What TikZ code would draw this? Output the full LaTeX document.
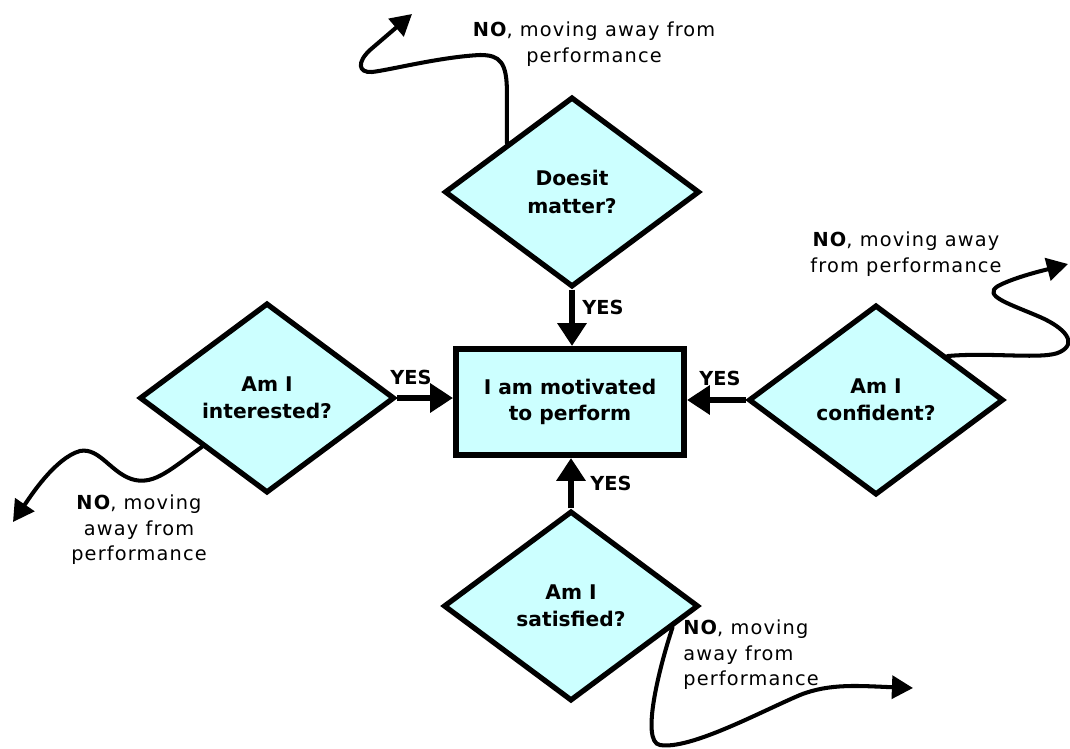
\documentclass[tikz,border=0pt]{standalone}
\usepackage{fontspec}
\setmainfont{DejaVu Sans}
\newfontfamily\awayfont{DejaVu Sans}[LetterSpace=6]
\usetikzlibrary{shapes.geometric,arrows.meta,calc}

\begin{document}
\begin{tikzpicture}[x=0.2mm,y=-0.2mm,
    question/.style={diamond,draw,line width=3pt,fill=q_cyan,minimum width=51mm,minimum height=38mm,
        inner sep=0pt,align=center,font=\fontsize{11.5}{15.5}\selectfont\bfseries},
    goal/.style={rectangle,draw,line width=3.4pt,fill=q_cyan,minimum width=45.6mm,minimum height=21.2mm,
        align=center,font=\fontsize{11.5}{15}\selectfont\bfseries},
    yes/.style={line width=3.4pt,-{Triangle[length=13pt,width=16pt]}},
    yeslabel/.style={font=\fontsize{11}{13}\selectfont\bfseries,inner sep=0pt},
    away/.style={line width=2.3pt,line cap=round,-{Triangle[length=12pt,width=13pt]}},
    awaylabel/.style={align=center,inner sep=0pt,font=\fontsize{11}{14.5}\awayfont}]
    \definecolor{q_cyan}{HTML}{CCFFFF}
    \useasboundingbox (0,0) rectangle (1070,749);
    %\draw[help lines,step=50] (0,0) grid (1070,749);

    % the four questions and the goal
    \node[goal] (motivated) at (570,402) {I am motivated\\to perform};
    \node[question] (matter) at (572,192) {Doesit\\matter?};
    \node[question] (interested) at (267,398) {Am I\\interested?};
    \node[question] (confident) at (876,400) {Am I\\confident?};
    \node[question] (satisfied) at (571,606) {Am I\\satisfied?};

    % YES arrows
    \draw[yes] (matter.south) -- (matter.south |- motivated.north);
    \draw[yes] (interested.east) -- (interested.east -| motivated.west);
    \draw[yes] (confident.west) -- (confident.west -| motivated.east);
    \draw[yes] (satisfied.north) -- (satisfied.north |- motivated.south);
    \node[yeslabel] (yestop) at (603,307) {YES};
    \node[yeslabel] (yesleft) at (411,377) {YES};
    \node[yeslabel] (yesright) at (720,378) {YES};
    \node[yeslabel] (yesbottom) at (611,483) {YES};

    % NO, the ways out
    \coordinate (topstart) at ($(matter.north)!0.5!(matter.west)$);
    \coordinate (leftstart) at ($(interested.west)!0.5!(interested.south)$);
    \coordinate (rightstart) at ($(confident.north)!0.55!(confident.east)$);
    \coordinate (botstart) at ($(satisfied.east)!0.22!(satisfied.south)$);
    \coordinate (awaytop) at (412,14);
    \coordinate (awayleft) at (13,522);
    \coordinate (awayright) at (1068,264);
    \coordinate (awaybottom) at (913,688);

    \draw[away] (topstart) -- ++(0,-50) .. controls (507,62) and (500,55) .. (480,55)
        .. controls (440,57) and (390,70) .. (372,72) .. controls (358,73) and (357,62) .. (370,50) -- (awaytop);
    \draw[away] (leftstart) .. controls (170,470) and (155,484) .. (135,480)
        .. controls (112,475) and (100,447) .. (80,451) .. controls (55,458) and (30,497) .. (awayleft);
    \draw[away] (rightstart) .. controls (990,352) and (1045,360) .. (1060,352)
        .. controls (1078,343) and (1065,328) .. (1040,317) .. controls (1010,304) and (982,296) .. (998,286)
        .. controls (1015,277) and (1045,270) .. (awayright);
    \draw[away] (botstart) .. controls (660,665) and (640,742) .. (660,745)
        .. controls (690,750) and (760,712) .. (800,695) .. controls (830,683) and (860,686) .. (awaybottom);

    \node[awaylabel] (notop) at (594,44) {\textbf{NO}, moving away from\\performance};
    \node[awaylabel] (noright) at (906,254) {\textbf{NO}, moving away\\from performance};
    \node[awaylabel] (noleft) at (139,530) {\textbf{NO}, moving\\away from\\performance};
    \node[awaylabel,anchor=west,align=left] (nobottom) at (683,655) {\textbf{NO}, moving\\away from\\performance};
\end{tikzpicture}
\end{document}
